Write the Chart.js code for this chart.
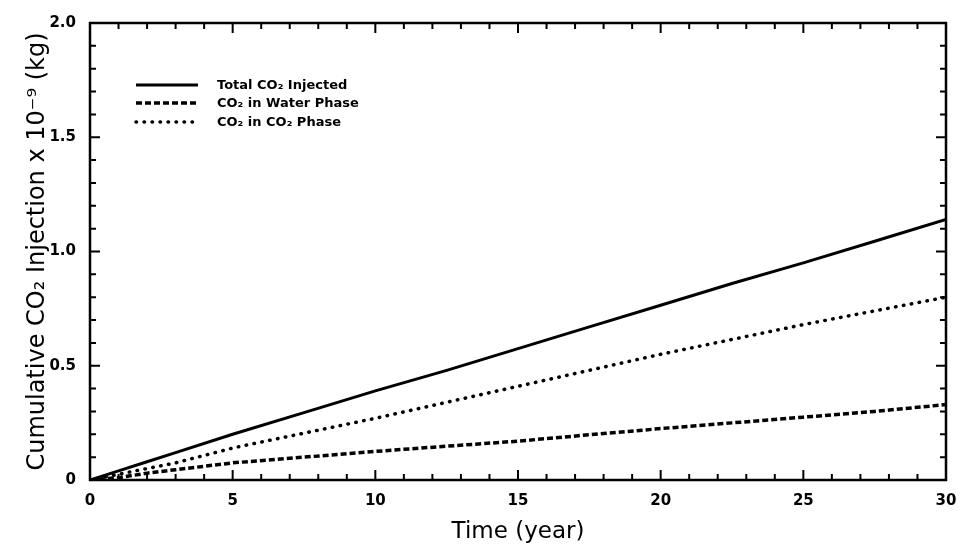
<!DOCTYPE html>
<html>
<head>
<meta charset="utf-8">
<script src="https://cdn.jsdelivr.net/npm/chart.js@4.4.1/dist/chart.umd.min.js"></script>
<style>
  html, body { margin: 0; padding: 0; background: #fff; }
  #wrap { width: 961px; height: 559px; }
</style>
</head>
<body>
<div id="wrap"><canvas id="grafico" width="961" height="559"></canvas></div>
<script>
// valores
const anos = [0, 1, 2, 3, 5, 7.5, 10, 12.5, 15, 17.5, 20, 22.5, 25, 27.5, 30];
const totalCO2 = [0, 0.04, 0.08, 0.12, 0.2, 0.295, 0.39, 0.48, 0.575, 0.67, 0.765, 0.86, 0.95, 1.045, 1.14];
const faseAgua = [0, 0.01, 0.03, 0.045, 0.075, 0.10, 0.125, 0.148, 0.17, 0.198, 0.225, 0.25, 0.275, 0.30, 0.33];
const faseCO2 = [0, 0.025, 0.05, 0.075, 0.14, 0.205, 0.27, 0.34, 0.41, 0.48, 0.55, 0.615, 0.68, 0.74, 0.80];
const legendas = ['Total CO\u2082 Injected', 'CO\u2082 in Water Phase', 'CO\u2082 in CO\u2082 Phase'];

const fonte = '"DejaVu Sans", Verdana, sans-serif';

function serie(valores) {
    return anos.map((a, i) => ({x: a, y: valores[i]}));
}

// marcas internas nos quatro lados + moldura
const marcasInternas = {
    id: 'marcasInternas',
    afterDraw(chart) {
        const ctx = chart.ctx;
        const a = chart.chartArea;
        const sx = chart.scales.x;
        const sy = chart.scales.y;
        ctx.save();
        ctx.strokeStyle = '#000';
        ctx.lineWidth = 2;
        for (let v = 0; v <= 30; v++) {
            const px = sx.getPixelForValue(v);
            const len = v % 5 === 0 ? 10 : 6;
            ctx.beginPath();
            ctx.moveTo(px, a.bottom); ctx.lineTo(px, a.bottom - len);
            ctx.moveTo(px, a.top); ctx.lineTo(px, a.top + len);
            ctx.stroke();
        }
        for (let k = 0; k <= 20; k++) {
            const py = sy.getPixelForValue(k / 10);
            const len = k % 5 === 0 ? 10 : 6;
            ctx.beginPath();
            ctx.moveTo(a.left, py); ctx.lineTo(a.left + len, py);
            ctx.moveTo(a.right, py); ctx.lineTo(a.right - len, py);
            ctx.stroke();
        }
        ctx.lineWidth = 2.5;
        ctx.strokeRect(a.left, a.top, a.right - a.left, a.bottom - a.top);

        // legenda dentro da area
        const linhasY = [85, 103, 122];
        ctx.font = 'bold 13px ' + fonte;
        ctx.textBaseline = 'middle';
        ctx.fillStyle = '#000';
        chart.data.datasets.forEach((ds, i) => {
            ctx.save();
            ctx.lineWidth = ds.borderWidth;
            ctx.setLineDash(ds.borderDash || []);
            ctx.lineCap = ds.borderCapStyle || 'butt';
            ctx.beginPath();
            ctx.moveTo(136, linhasY[i]);
            ctx.lineTo(198, linhasY[i]);
            ctx.stroke();
            ctx.restore();
            ctx.fillText(ds.label, 217, linhasY[i] + 1);
        });
        ctx.restore();
    }
};

const ctx = document.getElementById('grafico').getContext('2d');
const chart = new Chart(ctx, {
    type: 'line',
    data: {
        datasets: [
            {
                label: legendas[0],
                data: serie(totalCO2),
                borderColor: '#000',
                borderWidth: 3,
                pointRadius: 0,
                tension: 0
            },
            {
                label: legendas[1],
                data: serie(faseAgua),
                borderColor: '#000',
                borderWidth: 3.5,
                borderDash: [6, 3],
                pointRadius: 0,
                tension: 0
            },
            {
                label: legendas[2],
                data: serie(faseCO2),
                borderColor: '#000',
                borderWidth: 3.5,
                borderDash: [0.5, 7.5],
                borderCapStyle: 'round',
                pointRadius: 0,
                tension: 0
            }
        ]
    },
    options: {
        responsive: false,
        animation: false,
        layout: { padding: { top: 14, right: 15, left: 0, bottom: 0 } },
        plugins: {
            legend: { display: false },
            tooltip: { enabled: false }
        },
        scales: {
            x: {
                type: 'linear',
                min: 0,
                max: 30,
                grid: { display: false, drawTicks: false },
                border: { display: false },
                ticks: {
                    stepSize: 5,
                    padding: 12,
                    color: '#000',
                    font: { family: fonte, size: 15, weight: 'bold' }
                },
                title: {
                    display: true,
                    text: 'Time (year)',
                    color: '#000',
                    font: { family: fonte, size: 23 },
                    padding: { top: 4, bottom: 13 }
                },
                afterFit(scale) {
                    scale.height = 79;
                    scale.paddingLeft = 0;
                    scale.paddingRight = 0;
                }
            },
            y: {
                type: 'linear',
                min: 0,
                max: 2,
                grid: { display: false, drawTicks: false },
                border: { display: false },
                ticks: {
                    stepSize: 0.5,
                    padding: 14,
                    color: '#000',
                    font: { family: fonte, size: 15, weight: 'bold' },
                    callback: v => v === 0 ? '0' : v.toFixed(1)
                },
                title: {
                    display: true,
                    text: 'Cumulative CO\u2082 Injection x 10\u207B\u2079 (kg)',
                    color: '#000',
                    font: { family: fonte, size: 24 },
                    padding: { top: 23, bottom: 4 }
                },
                afterFit(scale) { scale.width = 90; }
            }
        }
    },
    plugins: [marcasInternas]
});
</script>
</body>
</html>
